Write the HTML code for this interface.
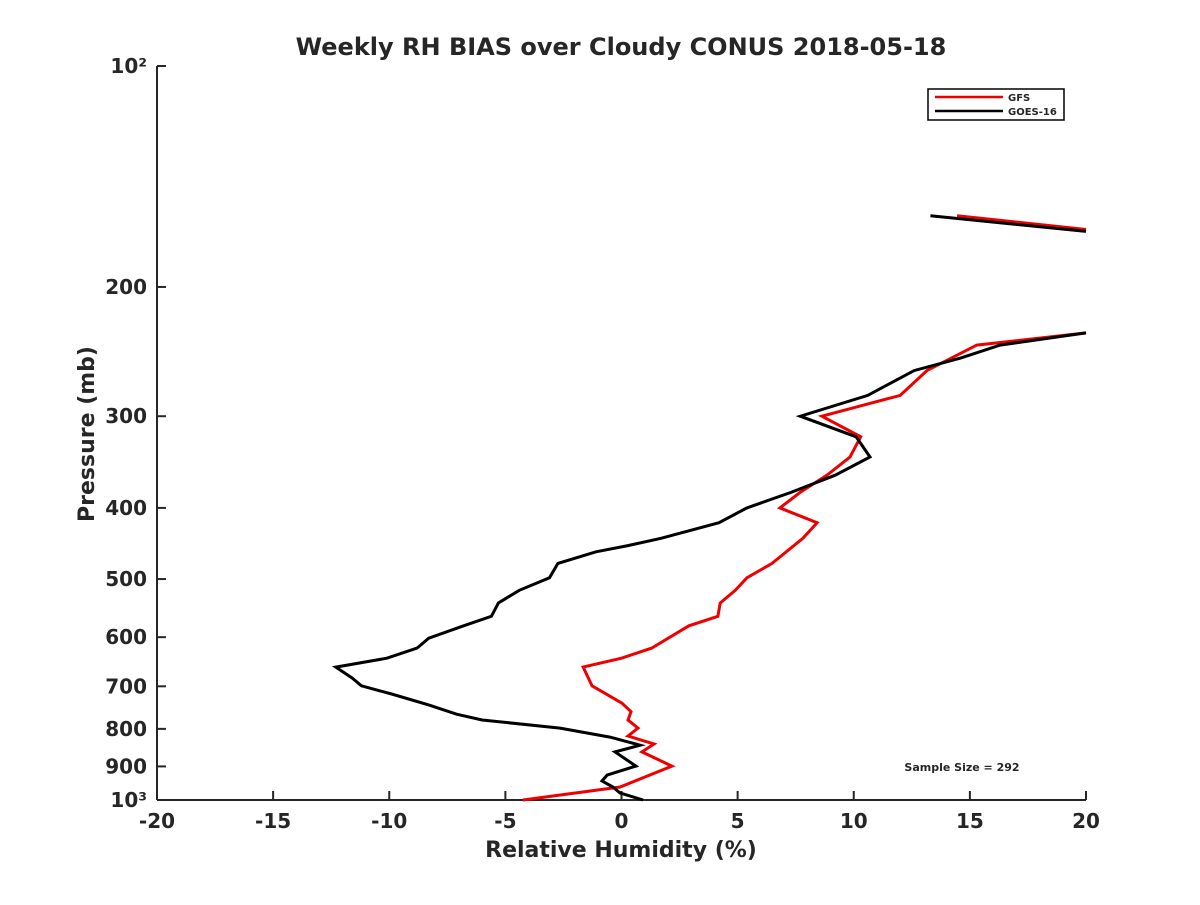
<!DOCTYPE html>
<html><head><meta charset="utf-8"><style>
body{margin:0;background:#fff}
svg{font-family:"DejaVu Sans","Liberation Sans",sans-serif;font-weight:bold}
text{fill:#262626}
</style></head><body>
<svg id="chart" width="1200" height="900">
<rect width="1200" height="900" fill="#fff"/>
<text x="621" y="55" text-anchor="middle" font-size="24">Weekly RH BIAS over Cloudy CONUS 2018-05-18</text>
<g id="axes"></g>
<g id="series"></g>
<text x="621" y="857" text-anchor="middle" font-size="22">Relative Humidity (%)</text>
<text transform="translate(94,434) rotate(-90)" text-anchor="middle" font-size="22">Pressure (mb)</text>
<g>
<rect x="928" y="89" width="136" height="31" fill="#fff" stroke="#000" stroke-width="1.5"/>
<line x1="935" y1="97" x2="1003" y2="97" stroke="#e00" stroke-width="2.5"/>
<text x="1008" y="101" font-size="10">GFS</text>
<line x1="935" y1="111" x2="1003" y2="111" stroke="#000" stroke-width="2.5"/>
<text x="1008" y="115" font-size="10">GOES-16</text>
</g>
<text x="962" y="771" text-anchor="middle" font-size="11">Sample Size = 292</text>
</svg>
<script>
const xTicks=[-20,-15,-10,-5,0,5,10,15,20];
const yTicks=[100,200,300,400,500,600,700,800,900,1000];
const yTickLabels=["10²","200","300","400","500","600","700","800","900","10³"];
const gfsP=[160,167,null,231,240,260,281,300,320,341,361,381,400,419,440,476,498,518,539,562,579,621,641,659,699,738,758,778,798,818,839,860,899,960,1000];
const gfsRH=[14.45,20,null,20,15.3,13.15,12.0,8.63,10.3,9.84,8.85,7.69,6.82,8.42,7.81,6.48,5.4,4.9,4.25,4.15,2.9,1.3,0,-1.65,-1.27,0.02,0.41,0.28,0.71,0.28,1.4,0.88,2.17,-0.06,-4.24];
const goesP=[160,168,null,231,240,250,260,281,300,320,341,361,381,400,419,440,450,459,476,498,518,539,562,579,602,621,641,659,682,699,717,742,764,778,798,821,842,860,899,925,942,960,978,1000];
const goesRH=[13.3,20,null,20,16.3,14.6,12.6,10.6,7.7,10.1,10.7,9.2,7.3,5.4,4.2,1.7,0.3,-1.1,-2.74,-3.1,-4.4,-5.3,-5.6,-6.8,-8.3,-8.8,-10.1,-12.3,-11.6,-11.2,-9.9,-8.3,-7.1,-6.0,-2.65,-0.5,0.8,-0.28,0.62,-0.62,-0.84,-0.37,-0.07,0.93];
const X0=157,X1=1086,Y0=66,Y1=800;
const xs=v=>X0+(v+20)/40*(X1-X0);
const ys=p=>Y0+(Math.log10(p)-2)*(Y1-Y0);
const NS="http://www.w3.org/2000/svg";
function mk(t,a,parent){const e=document.createElementNS(NS,t);for(const k in a)e.setAttribute(k,a[k]);parent.appendChild(e);return e;}
const ax=document.getElementById('axes');
let l=mk('line',{x1:X0,y1:Y0,x2:X0,y2:Y1,stroke:'#262626','stroke-width':2},ax);


l=mk('line',{x1:X0,y1:Y1,x2:X1,y2:Y1,stroke:'#262626','stroke-width':2},ax);


xTicks.forEach(v=>{
 mk('line',{x1:xs(v),y1:Y1,x2:xs(v),y2:Y1-9,stroke:'#262626','stroke-width':2},ax);
 const t=mk('text',{x:xs(v),y:Y1+28,'text-anchor':'middle','font-size':20},ax);
 t.textContent=v;
 
 
});
yTicks.forEach((p,i)=>{
 mk('line',{x1:X0,y1:ys(p),x2:X0+9,y2:ys(p),stroke:'#262626','stroke-width':2},ax);
 const t=mk('text',{x:X0-10,y:ys(p)+7,'text-anchor':'end','font-size':20},ax);
 t.textContent=yTickLabels[i];
 
 
});
const sg=document.getElementById('series');
function draw(P,R,color,name){
 let segs=[[]];
 P.forEach((p,i)=>{if(p===null){segs.push([]);}else segs[segs.length-1].push(xs(R[i]).toFixed(1)+','+ys(p).toFixed(1));});
 segs.forEach(s=>{if(s.length<2)return;
  const e=mk('polyline',{points:s.join(' '),fill:'none',stroke:color,'stroke-width':3,'stroke-linejoin':'miter'},sg);
  
  
 });
}
draw(gfsP,gfsRH,'#e00','gfs-line');
draw(goesP,goesRH,'#000','goes16-line');
</script>
</body></html>
